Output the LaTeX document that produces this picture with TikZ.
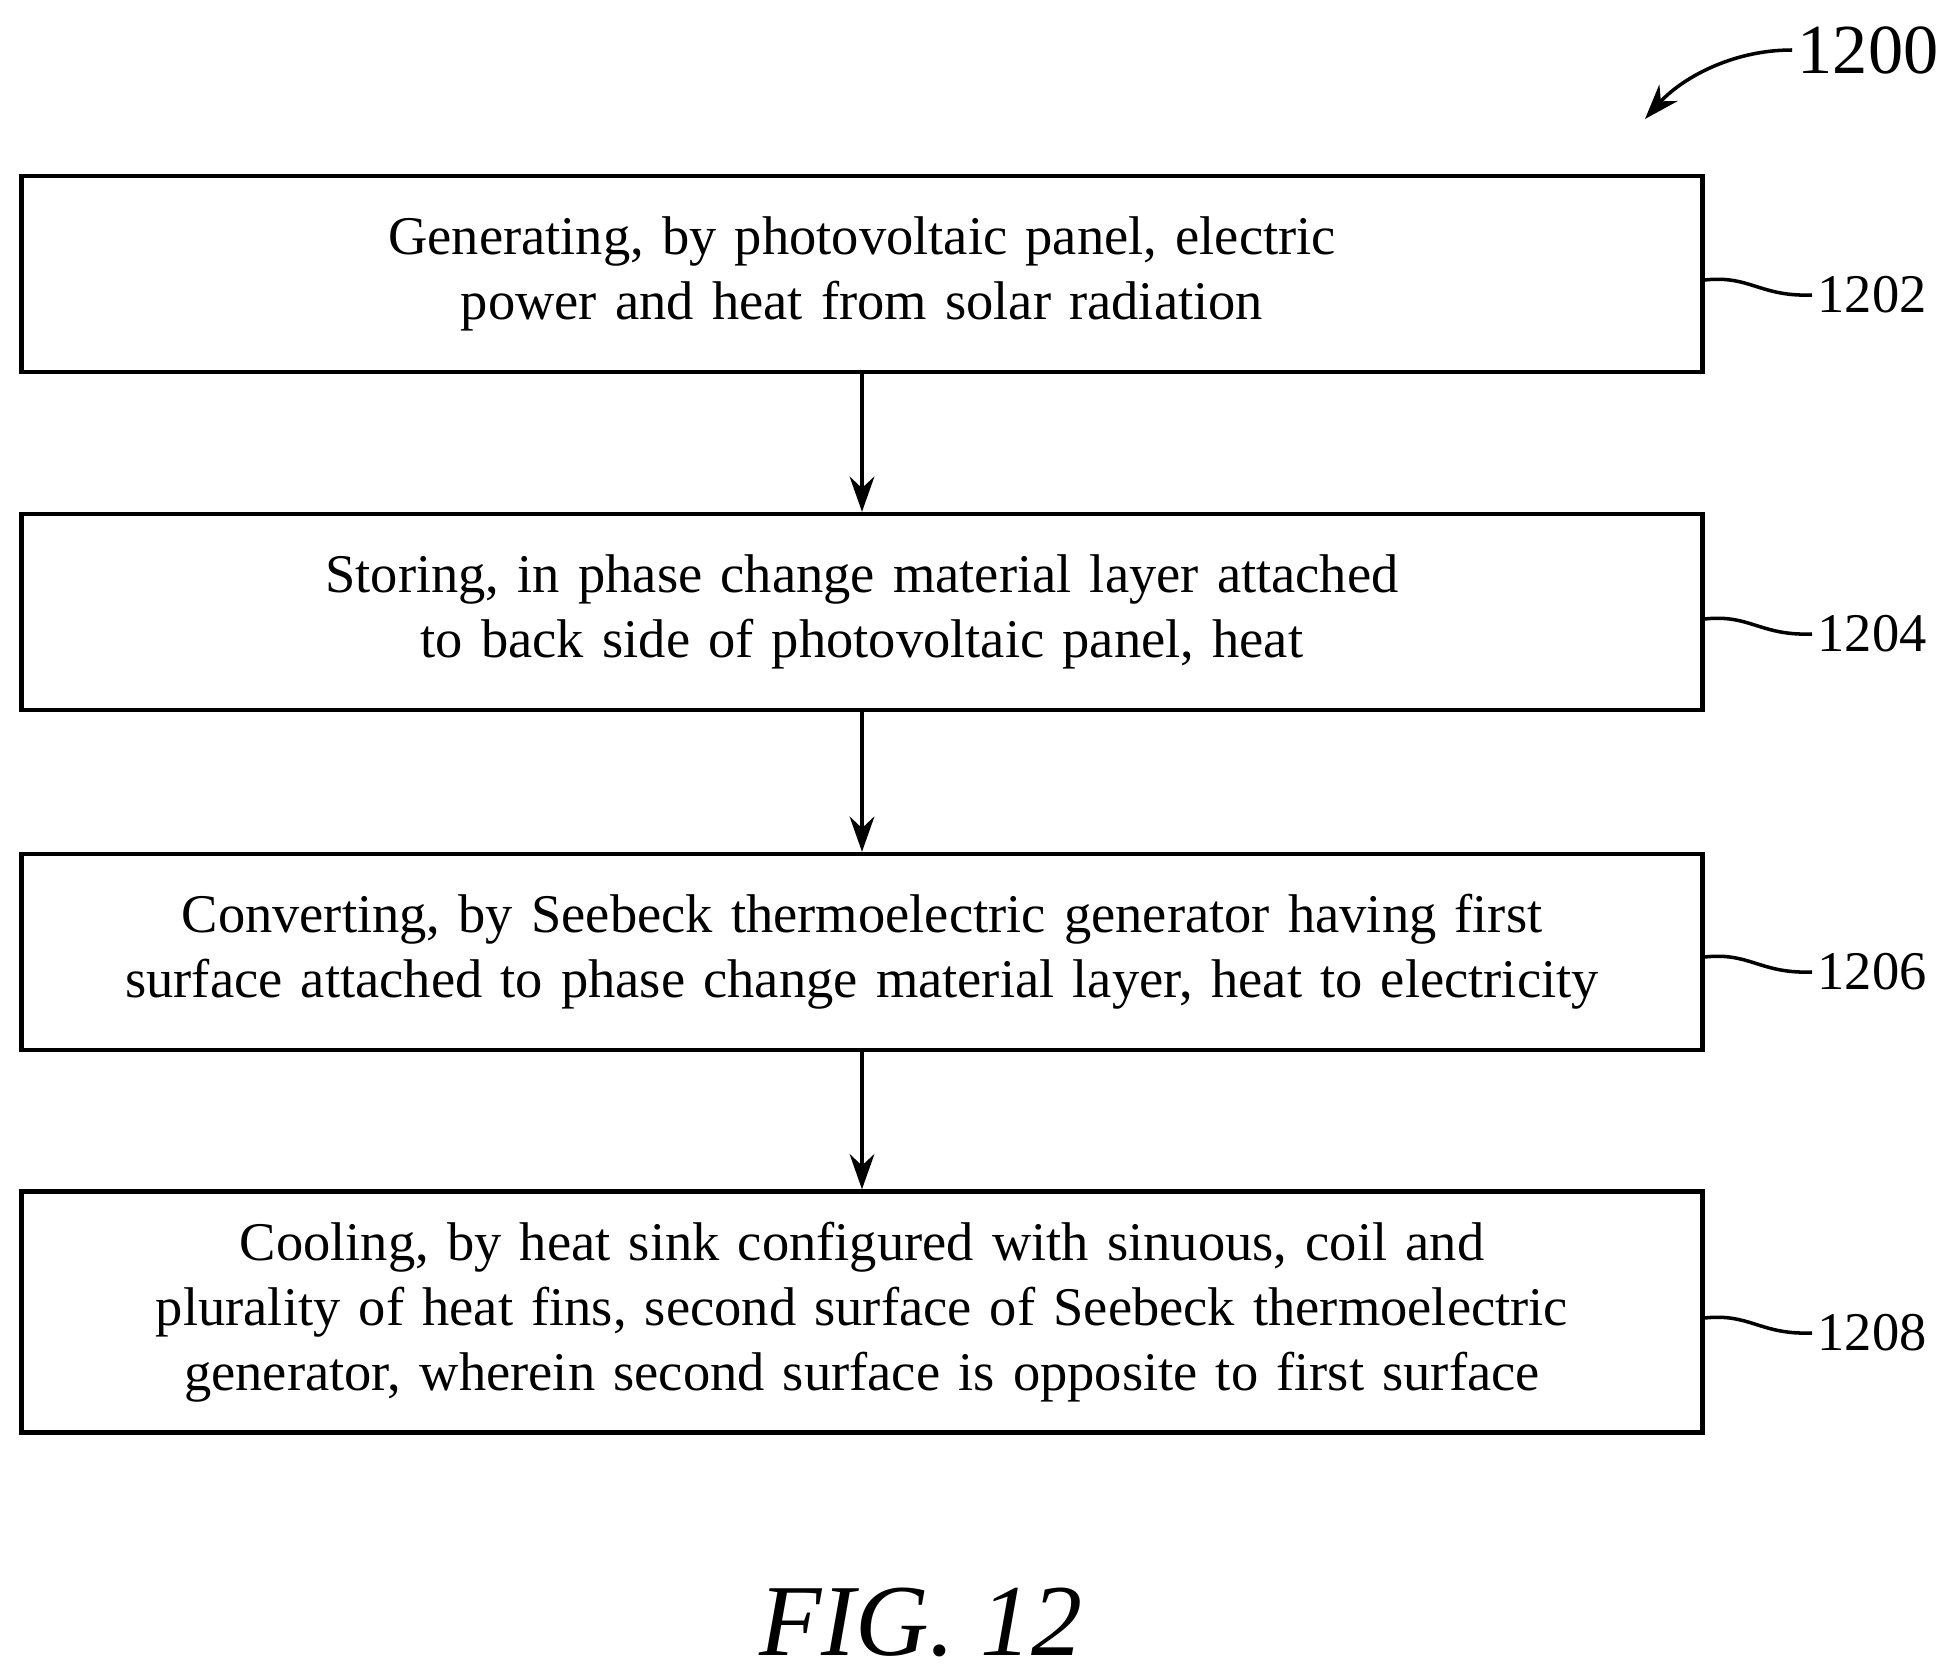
\documentclass[tikz,border=0pt]{standalone}
\usepackage{fontspec}
\setmainfont{Liberation Serif}
\usetikzlibrary{arrows.meta,positioning}
\hyphenpenalty=10000
\exhyphenpenalty=10000
\begin{document}
\begin{tikzpicture}[x=0.01cm,y=-0.01cm,line width=1.2pt,
    step box/.style={draw,minimum width=16.8cm,minimum height=#1,text width=16.3cm,align=center,
      font=\fontsize{15.5}{18.5}\selectfont,inner sep=0pt},
    ref label/.style={font=\fontsize{15.5}{18.5}\selectfont,inner sep=1pt},
    flow/.style={-{Stealth[length=10pt,width=7pt]}}]
  \useasboundingbox (0,0) rectangle (1947,1676);
  % steps
  \node[step box=1.96cm] (s1) at (862,274) {Generating, by photovoltaic panel, electric power and heat from solar radiation};
  \node[step box=1.96cm] (s2) at (862,612) {Storing, in phase change material layer attached to back side of photovoltaic panel, heat};
  \node[step box=1.96cm] (s3) at (862,952) {Converting, by Seebeck thermoelectric generator having first surface attached to phase change material layer, heat to electricity};
  \node[step box=2.41cm] (s4) at (862,1312) {Cooling, by heat sink configured with sinuous, coil and plurality of heat fins, second surface of Seebeck thermoelectric generator, wherein second surface is opposite to first surface};
  % arrows
  \draw[flow] (s1) -- (s2);
  \draw[flow] (s2) -- (s3);
  \draw[flow] (s3) -- (s4);
  % reference numerals
  \foreach \s/\n/\yy in {s1/1202/295, s2/1204/634, s3/1206/972, s4/1208/1333}{
    \node[ref label,anchor=west] (l\n) at (1812,\yy) {\n};
    \draw[line width=1pt] (\s.east |- 0,\yy-15) .. controls (1750,\yy-20) and (1760,\yy+2) .. (l\n.west);
  }
  \node[ref label,font=\fontsize{20}{22}\selectfont] (fig) at (1868,50) {1200};
  \draw[flow,line width=1pt] (fig.west) .. controls (1730,50) and (1680,80) .. (1645,119);
  \node[font=\fontsize{29}{33}\itshape] (cap) at (921,1622) {FIG. 12};
\end{tikzpicture}
\end{document}
